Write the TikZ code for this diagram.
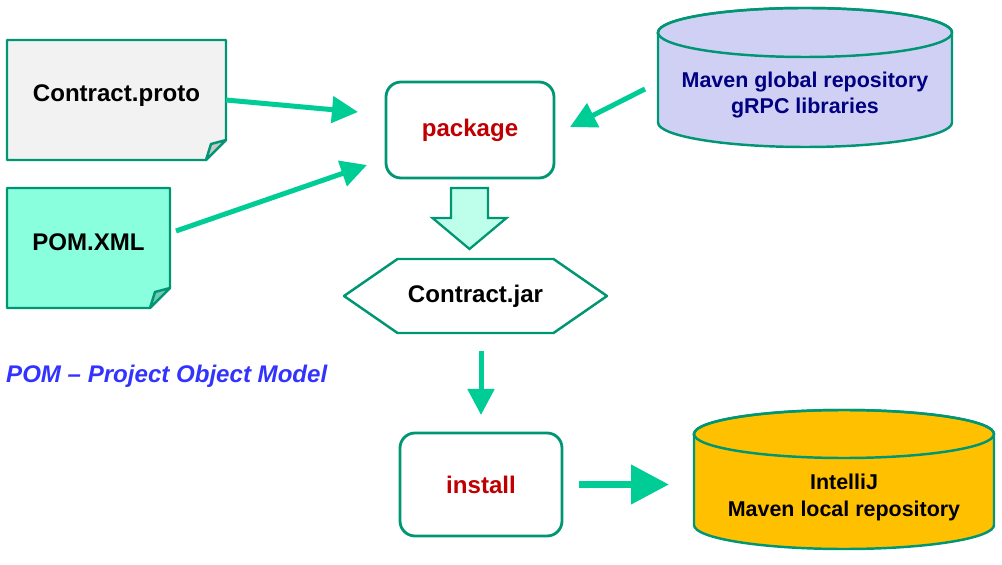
\documentclass[tikz,border=0pt]{standalone}
\usepackage{fontspec}
\setmainfont{Liberation Sans}
\usepackage{xcolor}
\usetikzlibrary{arrows.meta,calc,backgrounds}

\definecolor{edgegreen}{RGB}{0,150,115}
\definecolor{arrowgreen}{RGB}{0,204,150}
\definecolor{protofill}{RGB}{242,242,242}
\definecolor{protofold}{RGB}{200,200,200}
\definecolor{pomfill}{RGB}{138,255,222}
\definecolor{pomfold}{RGB}{110,204,178}
\definecolor{globalfill}{RGB}{208,208,245}
\definecolor{localfill}{RGB}{255,192,0}
\definecolor{flowfill}{RGB}{190,255,235}
\definecolor{cmdred}{RGB}{192,0,0}
\definecolor{repoblue}{RGB}{0,0,128}
\definecolor{noteblue}{RGB}{51,51,255}

\newcommand{\diagfont}{\fontsize{13.7}{16.4}\selectfont\bfseries}
\newcommand{\repofont}{\fontsize{12.2}{15.2}\selectfont\bfseries}

\begin{document}
\begin{tikzpicture}[
    doclabel/.style={minimum height=2.4cm, outer sep=0pt, inner sep=0pt, font=\diagfont},
    docline/.style={draw=edgegreen, line width=1.4pt, line join=round},
    cmdbox/.style={draw=edgegreen, line width=1.6pt, rounded corners=0.3cm, fill=white,
                   outer sep=0pt, text=cmdred, font=\diagfont},
    repotext/.style={align=center, font=\repofont, outer sep=0pt},
    cylline/.style={draw=edgegreen, line width=1.4pt},
    flow/.style={-{Triangle[length=0.52cm, width=0.52cm]}, line width=0.1cm, arrowgreen},
    bigflow/.style={-{Triangle[length=0.76cm, width=0.76cm]}, line width=0.15cm, arrowgreen},
]
\useasboundingbox (0,0) rectangle (20.04,-11.3);

% =============================================
% LEFT: input documents
% =============================================
\node[doclabel, minimum width=4.38cm] at (2.33, -2.0) (proto) {\raisebox{0.27cm}{Contract.proto}};
\node[doclabel, minimum width=3.26cm] at (1.77, -4.96) (pom) {\raisebox{0.22cm}{POM.XML}};

\begin{scope}[on background layer]
\draw[docline, fill=protofill] (proto.north west) -- (proto.north east)
    -- ([yshift=0.4cm]proto.south east) -- ([xshift=-0.4cm]proto.south east)
    -- (proto.south west) -- cycle;
\draw[docline, fill=protofold] ([yshift=0.4cm]proto.south east)
    -- ([xshift=-0.3cm, yshift=0.32cm]proto.south east)
    -- ([xshift=-0.4cm]proto.south east) -- cycle;

\draw[docline, fill=pomfill] (pom.north west) -- (pom.north east)
    -- ([yshift=0.4cm]pom.south east) -- ([xshift=-0.4cm]pom.south east)
    -- (pom.south west) -- cycle;
\draw[docline, fill=pomfold] ([yshift=0.4cm]pom.south east)
    -- ([xshift=-0.3cm, yshift=0.32cm]pom.south east)
    -- ([xshift=-0.4cm]pom.south east) -- cycle;
\end{scope}

\node[anchor=west, text=noteblue, font=\diagfont\itshape] at (0.0, -7.53) (pomnote)
    {POM -- Project Object Model};

% =============================================
% CENTER: package -> jar -> install
% =============================================
\node[cmdbox, minimum width=3.36cm, minimum height=1.92cm] at (9.4, -2.6) (package) {package};

% Hollow block arrow
\draw[draw=edgegreen, line width=1.3pt, fill=flowfill]
    (9.02,-3.76) -- (9.76,-3.76) -- (9.76,-4.36) -- (10.13,-4.36) -- (9.39,-4.98)
    -- (8.65,-4.36) -- (9.02,-4.36) -- cycle;

\node[minimum width=5.26cm, minimum height=1.48cm, outer sep=0pt, font=\diagfont]
    at (9.51, -5.92) (jar) {Contract.jar};
\begin{scope}[on background layer]
\draw[docline, fill=white] (jar.west) -- ([xshift=1.07cm]jar.north west)
    -- ([xshift=-1.07cm]jar.north east) -- (jar.east)
    -- ([xshift=-1.07cm]jar.south east) -- ([xshift=1.07cm]jar.south west) -- cycle;
\end{scope}

\node[cmdbox, minimum width=3.24cm, minimum height=2.06cm] at (9.62, -9.69) (install) {install};

% =============================================
% RIGHT: repositories
% =============================================
\draw[cylline, fill=globalfill] (13.16,-0.65) -- (13.16,-2.45)
    arc[start angle=180, end angle=360, x radius=2.94cm, y radius=0.49cm]
    -- (19.04,-0.65)
    arc[start angle=0, end angle=180, x radius=2.94cm, y radius=0.49cm] -- cycle;
\draw[cylline] (16.1,-0.65) ellipse[x radius=2.94cm, y radius=0.49cm];
\node[repotext, text=repoblue, minimum width=5.88cm] at (16.1, -1.9) (globalrepo)
    {Maven global repository\\gRPC libraries};

\draw[cylline, fill=localfill] (13.88,-8.68) -- (13.88,-10.5)
    arc[start angle=180, end angle=360, x radius=3.0cm, y radius=0.48cm]
    -- (19.88,-8.68)
    arc[start angle=0, end angle=180, x radius=3.0cm, y radius=0.48cm] -- cycle;
\draw[cylline] (16.88,-8.68) ellipse[x radius=3.0cm, y radius=0.48cm];
\node[repotext, minimum width=6.0cm] at (16.88, -9.95) (localrepo)
    {IntelliJ\\Maven local repository};

% =============================================
% Connectors
% =============================================
\coordinate (protoin) at (7.16, -2.24);
\coordinate (pomout) at (3.52, -4.62);
\coordinate (pomin) at (7.34, -3.30);
\coordinate (globalout) at (12.9, -1.78);
\coordinate (globalin) at (11.4, -2.54);

\draw[flow] (proto.east) -- (protoin);
\draw[flow] (pomout) -- (pomin);
\draw[flow] (globalout) -- (globalin);
\draw[flow, shorten <=0.36cm, shorten >=0.36cm] (install.north |- jar.south) -- (install.north);
\draw[bigflow, shorten <=0.34cm, shorten >=0.5cm] (install.east) -- (localrepo.west |- install.east);

\end{tikzpicture}
\end{document}
